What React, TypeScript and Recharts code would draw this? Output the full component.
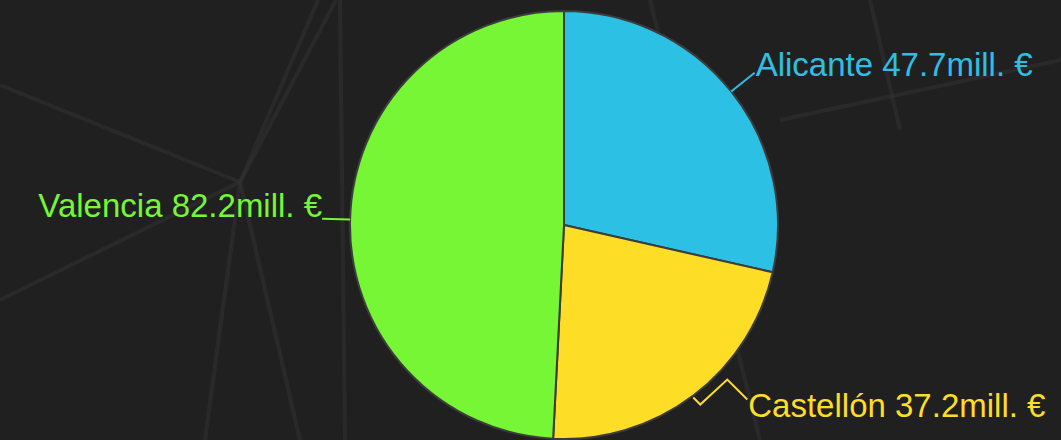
import { PieChart, Pie, Cell } from 'recharts'

const provinces = ['Alicante', 'Castellón', 'Valencia']
const amounts = [47.7, 37.2, 82.2]
const colors = ['#2cc0e4', '#fedd27', '#76f634']

const data = provinces.map((name, i) => ({ name, value: amounts[i] }))

const RADIAN = Math.PI / 180
const FONT = '"Liberation Sans", Arial, sans-serif'

// faint background web, purely decorative
const bgLines: [number, number, number, number][] = [
  [0, 85, 240, 182],
  [240, 182, 318, 0],
  [240, 182, 336, 0],
  [240, 182, 205, 440],
  [240, 182, 300, 440],
  [340, 0, 345, 440],
  [650, 0, 760, 440],
  [0, 300, 240, 182],
  [780, 120, 1061, 60],
  [870, 0, 900, 130],
]

function renderLabel(props: any) {
  const { cx, cy, midAngle, outerRadius, index, name, value } = props
  const cos = Math.cos(-midAngle * RADIAN)
  const sin = Math.sin(-midAngle * RADIAN)
  const x0 = cx + outerRadius * cos
  const y0 = cy + outerRadius * sin
  const color = colors[index]
  const text = `${name} ${value}mill. €`

  if (name === 'Castellón') {
    // small hook, then a peak, then down to the text
    const pts = [
      [x0, y0 + 2],
      [x0 + 7, y0 + 9],
      [x0 + 34, y0 - 16],
      [x0 + 54, y0 + 4],
    ]
    return (
      <g>
        <polyline points={pts.map(p => p.join(',')).join(' ')} fill="none" stroke={color} strokeWidth={2} />
        <text x={x0 + 55} y={y0 + 21} fill={color} fontSize={33} fontFamily={FONT} textAnchor="start">
          {text}
        </text>
      </g>
    )
  }

  const ext = name === 'Valencia' ? 28 : 30
  const x1 = cx + (outerRadius + ext) * cos
  const y1 = cy + (outerRadius + ext) * sin
  const left = cos < 0
  return (
    <g>
      <line x1={x0} y1={y0} x2={x1} y2={y1} stroke={color} strokeWidth={2} />
      <text
        x={left ? x1 : x1 + 1}
        y={left ? y1 - 2 : y1 + 3}
        fill={color}
        fontSize={33}
        fontFamily={FONT}
        textAnchor={left ? 'end' : 'start'}
      >
        {text}
      </text>
    </g>
  )
}

export default function App() {
  return (
    <div
      style={{
        position: 'absolute',
        left: 0,
        top: 0,
        width: 1061,
        height: 440,
        background: '#202020',
        overflow: 'hidden',
      }}
    >
      <svg width={1061} height={440} style={{ position: 'absolute', left: 0, top: 0 }}>
        {bgLines.map(([x1, y1, x2, y2], i) => (
          <line key={i} x1={x1} y1={y1} x2={x2} y2={y2} stroke="#333" strokeWidth={4} opacity={0.5} />
        ))}
      </svg>
      <div style={{ position: 'absolute', left: 0, top: 0 }}>
        <PieChart width={1061} height={440} margin={{ top: 0, right: 0, bottom: 0, left: 0 }}>
          <Pie
            data={data}
            dataKey="value"
            nameKey="name"
            cx={564}
            cy={225}
            outerRadius={214}
            startAngle={90}
            endAngle={-270}
            stroke="#3c3c3c"
            strokeWidth={2}
            label={renderLabel}
            labelLine={false}
            isAnimationActive={false}
          >
            {data.map((d, i) => (
              <Cell key={d.name} fill={colors[i]} />
            ))}
          </Pie>
        </PieChart>
      </div>
    </div>
  )
}
